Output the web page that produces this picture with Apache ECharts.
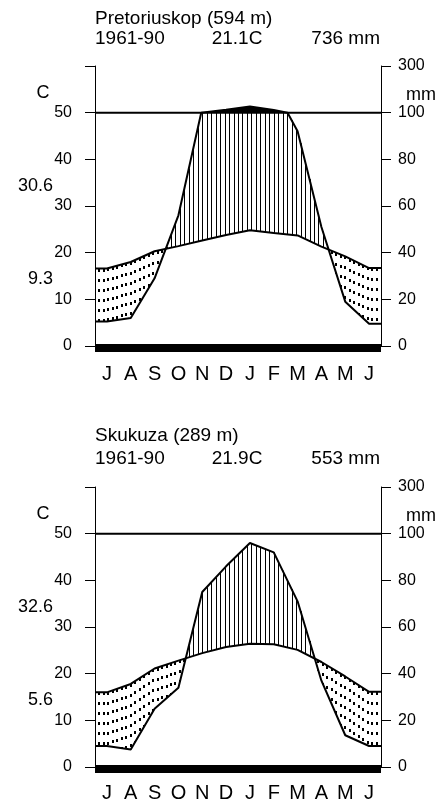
<!DOCTYPE html>
<html><head><meta charset="utf-8">
<script src="https://cdn.jsdelivr.net/npm/echarts@6.0.0/dist/echarts.min.js"></script>
<style>html,body{margin:0;padding:0;background:#fff}#c{width:441px;height:805px}</style>
</head><body><div id="c"></div>
<script>
// ---------- data ----------
const months = ['J','A','S','O','N','D','J','F','M','A','M','J'];
const tempTickLabels = ['0','10','20','30','40','50',''];
const precipTickLabels = ['0','20','40','60','80','100','300'];

const station1Name = 'Pretoriuskop (594 m)';
const station1Period = '1961-90';
const station1MeanTemp = '21.1C';
const station1TotalPrecip = '736 mm';
const station1MaxLabel = '30.6';
const station1MinLabel = '9.3';
const station1Temp   = [16.6, 18.0, 20.3, 21.4, 22.6, 23.8, 24.8, 24.2, 23.7, 21.3, 19.2, 16.7];
const station1Precip = [10.5, 12, 29, 56, 102, 113, 126, 111, 92, 51, 19, 9.5];

const station2Name = 'Skukuza (289 m)';
const station2Period = '1961-90';
const station2MeanTemp = '21.9C';
const station2TotalPrecip = '553 mm';
const station2MaxLabel = '32.6';
const station2MinLabel = '5.6';
const station2Temp   = [16.0, 17.8, 21.1, 22.8, 24.4, 25.7, 26.4, 26.3, 25.1, 22.5, 19.4, 16.1];
const station2Precip = [9, 7.5, 25, 34, 75, 86, 96, 92, 71, 37, 13.6, 9];

// ---------- helpers ----------
const FONT = '"Liberation Sans", Arial, sans-serif';
function scaleP(p) { return p <= 100 ? p / 2 : 50 + (p - 100) / 20; }
function extended(vals) {
  const pts = [[0, vals[0]]];
  vals.forEach((v, i) => pts.push([i + 0.5, v]));
  pts.push([12, vals[vals.length - 1]]);
  return pts;
}
function precipPath(vals) {
  const e = extended(vals), out = [];
  for (let i = 0; i < e.length; i++) {
    if (i > 0) {
      const [x0, p0] = e[i - 1], [x1, p1] = e[i];
      if ((p0 - 100) * (p1 - 100) < 0) {
        const f = (100 - p0) / (p1 - p0);
        out.push([x0 + f * (x1 - x0), 100]);
      }
    }
    out.push(e[i]);
  }
  return out.map(([x, p]) => [x, scaleP(p)]);
}
function interp(pts, x) {
  for (let i = 1; i < pts.length; i++) {
    if (x <= pts[i][0]) {
      const [x0, y0] = pts[i - 1], [x1, y1] = pts[i];
      const d = x1 - x0;
      return d === 0 ? y1 : y0 + (x - x0) / d * (y1 - y0);
    }
  }
  return pts[pts.length - 1][1];
}

const stations = [
  { name: station1Name, period: station1Period, mean: station1MeanTemp, total: station1TotalPrecip,
    maxL: station1MaxLabel, minL: station1MinLabel, temp: station1Temp, precip: station1Precip,
    top: 66, t1: 19, t2: 38.5, monthMargin: 18 },
  { name: station2Name, period: station2Period, mean: station2MeanTemp, total: station2TotalPrecip,
    maxL: station2MaxLabel, minL: station2MinLabel, temp: station2Temp, precip: station2Precip,
    top: 487, t1: 436, t2: 459, monthMargin: 16 }
];
const PLOT_H = 280, PLOT_L = 95, PLOT_W = 286;

const grid = [], xAxis = [], yAxis = [], series = [], graphic = [];
stations.forEach((st, i) => {
  grid.push({ left: PLOT_L, width: PLOT_W, top: st.top, height: PLOT_H });
  xAxis.push({ type: 'value', gridIndex: i, min: 0, max: 12, position: 'top', show: false });
  xAxis.push({ type: 'category', gridIndex: i, data: months, position: 'bottom', boundaryGap: true,
    axisLine: { show: false }, axisTick: { show: false }, splitLine: { show: false },
    axisLabel: { color: '#000', fontSize: 20, fontFamily: FONT, margin: st.monthMargin, interval: 0 } });
  const axCommon = {
    type: 'value', gridIndex: i, min: 0, max: 60, interval: 10, splitLine: { show: false },
    axisLine: { show: true, lineStyle: { color: '#000', width: 1 } },
    axisTick: { show: true, length: 10, lineStyle: { color: '#000', width: 1 } }
  };
  yAxis.push(Object.assign({}, axCommon, { position: 'left',
    axisLabel: { color: '#000', fontSize: 16, fontFamily: FONT, margin: 23,
      formatter: v => tempTickLabels[Math.round(v / 10)] } }));
  yAxis.push(Object.assign({}, axCommon, { position: 'right',
    axisLabel: { color: '#000', fontSize: 16, fontFamily: FONT, margin: 17,
      formatter: v => precipTickLabels[Math.round(v / 10)] } }));

  const tPts = extended(st.temp);
  const pPts = precipPath(st.precip);

  series.push({
    type: 'custom', xAxisIndex: 2 * i, yAxisIndex: 2 * i, data: [[0, 0]], clip: false, silent: true, z: 2,
    renderItem: (params, api) => {
      const ch = [];
      const step = 12 / 64;
      for (let k = 1; k < 64; k++) {
        const x = k * step;
        const t = interp(tPts, x), p = interp(pPts, x);
        const pt = api.coord([x, t]);
        if (p > t) {
          const px = Math.round(pt[0]) + 0.5;
          const pp = api.coord([x, Math.min(p, 50)]);
          ch.push({ type: 'line', shape: { x1: px, y1: pt[1], x2: px, y2: pp[1] },
            style: { stroke: '#000', lineWidth: 1 } });
        } else if (p < t) {
          const px = Math.round(pt[0]);
          const pp = api.coord([x, p]);
          ch.push({ type: 'line', shape: { x1: px, y1: Math.round(pt[1]), x2: px, y2: pp[1] },
            style: { stroke: '#000', lineWidth: 2, lineDash: [3, 7] } });
        }
      }
      // black area above 100 mm
      let run = [];
      const flush = () => {
        if (run.length > 2) ch.push({ type: 'polygon', shape: { points: run.map(q => api.coord(q)) }, style: { fill: '#000' } });
        run = [];
      };
      pPts.forEach(q => { if (q[1] >= 50) run.push(q); else flush(); });
      flush();
      // 100 mm line
      const a = api.coord([0, 50]), b = api.coord([12, 50]);
      ch.push({ type: 'line', shape: { x1: a[0], y1: a[1], x2: b[0], y2: b[1] }, style: { stroke: '#000', lineWidth: 2 } });
      // bottom bar
      const c0 = api.coord([0, 0]), c1 = api.coord([12, 0]);
      ch.push({ type: 'rect', shape: { x: c0[0], y: c0[1] - 2, width: c1[0] - c0[0], height: 8 }, style: { fill: '#000' } });
      return { type: 'group', children: ch };
    }
  });
  series.push({ type: 'line', xAxisIndex: 2 * i, yAxisIndex: 2 * i, data: tPts, showSymbol: false, z: 5,
    lineStyle: { color: '#000', width: 2 }, silent: true });
  series.push({ type: 'line', xAxisIndex: 2 * i, yAxisIndex: 2 * i, data: pPts, showSymbol: false, z: 5,
    lineStyle: { color: '#000', width: 2 }, silent: true });

  const txt = (text, x, y, align, size) => ({ type: 'text', x: x, y: y, silent: true,
    style: { text: text, fill: '#000', font: size + 'px ' + FONT, textAlign: align, textVerticalAlign: 'middle' } });
  graphic.push(txt(st.name, 95, st.t1, 'left', 19));
  graphic.push(txt(st.period, 95, st.t2, 'left', 19));
  graphic.push(txt(st.mean, 237, st.t2, 'center', 19));
  graphic.push(txt(st.total, 380, st.t2, 'right', 19));
  graphic.push(txt(st.maxL, 53, st.top + 120, 'right', 18));
  graphic.push(txt(st.minL, 53, st.top + 213, 'right', 18));
  graphic.push(txt('C', 43, st.top + 27.5, 'center', 18));
  graphic.push(txt('mm', 406, st.top + 29, 'left', 18));
});

const chart = echarts.init(document.getElementById('c'), null, { renderer: 'canvas' });
chart.setOption({ animation: false, backgroundColor: '#fff', grid, xAxis, yAxis, series, graphic });
</script></body></html>
